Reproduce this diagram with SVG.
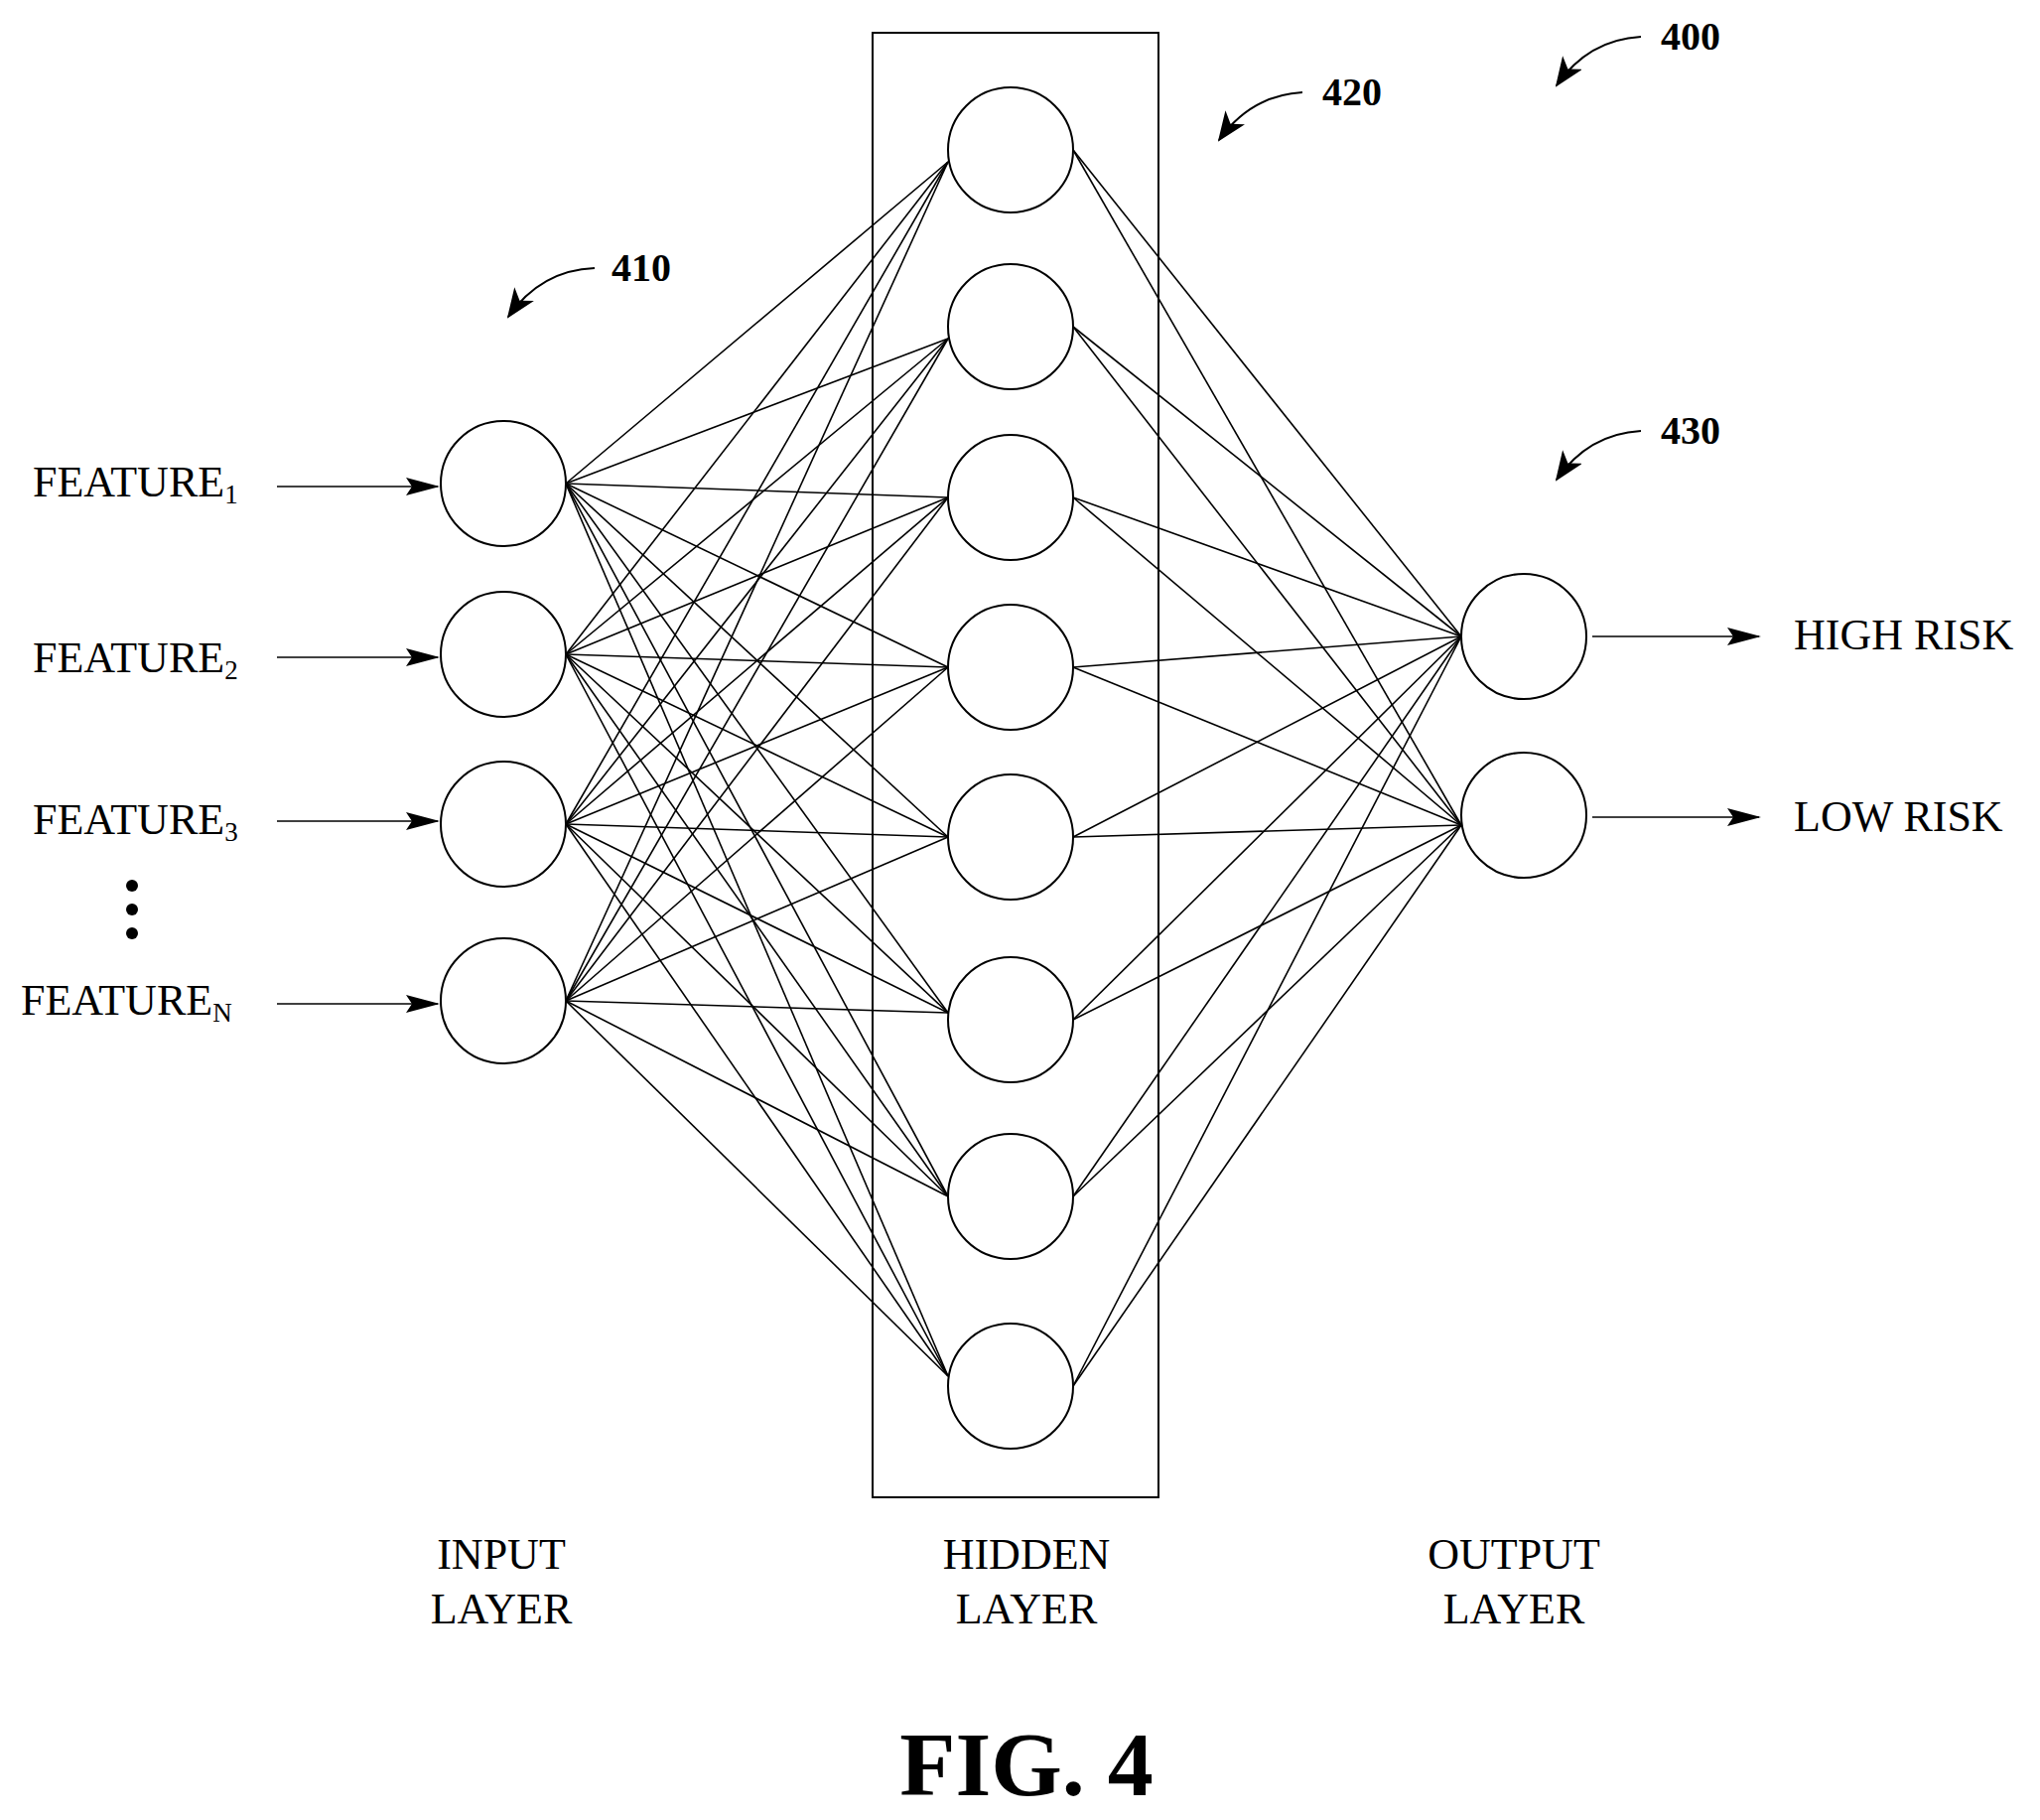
<svg xmlns="http://www.w3.org/2000/svg" width="2055" height="1833" viewBox="0 0 2055 1833">
<style>
.n{fill:#fff;stroke:#000;stroke-width:2}
.c line{stroke:#000;stroke-width:1.6}
.t{font-family:"Liberation Serif",serif;font-size:44px;fill:#000}
.r{font-family:"Liberation Serif",serif;font-size:40px;font-weight:bold;fill:#000}
.a{stroke:#000;stroke-width:2;fill:none}
</style>
<defs>
<marker id="ah2" markerWidth="34" markerHeight="18" refX="32" refY="9" orient="auto" markerUnits="userSpaceOnUse" viewBox="0 0 34 18"><path d="M0,0 L34,9 L0,18 L6,9 z" fill="#000"/></marker>
<marker id="ah3" markerWidth="30" markerHeight="24" refX="28" refY="12" orient="auto" markerUnits="userSpaceOnUse" viewBox="0 0 30 24"><path d="M0,0 L30,12 L0,24 L8,12 z" fill="#000"/></marker>
</defs>
<rect width="2055" height="1833" fill="#fff"/>
<rect x="879" y="33" width="288" height="1475" fill="none" stroke="#000" stroke-width="2"/>
<g class="c" id="connectors">
<g id="ih">
<line x1="570" y1="487" x2="955" y2="163"/><line x1="570" y1="487" x2="955" y2="341"/><line x1="570" y1="487" x2="955" y2="501"/><line x1="570" y1="487" x2="955" y2="672"/><line x1="570" y1="487" x2="955" y2="843"/><line x1="570" y1="487" x2="955" y2="1020"/><line x1="570" y1="487" x2="955" y2="1205"/><line x1="570" y1="487" x2="955" y2="1386"/>
<line x1="570" y1="659" x2="955" y2="163"/><line x1="570" y1="659" x2="955" y2="341"/><line x1="570" y1="659" x2="955" y2="501"/><line x1="570" y1="659" x2="955" y2="672"/><line x1="570" y1="659" x2="955" y2="843"/><line x1="570" y1="659" x2="955" y2="1020"/><line x1="570" y1="659" x2="955" y2="1205"/><line x1="570" y1="659" x2="955" y2="1386"/>
<line x1="570" y1="830" x2="955" y2="163"/><line x1="570" y1="830" x2="955" y2="341"/><line x1="570" y1="830" x2="955" y2="501"/><line x1="570" y1="830" x2="955" y2="672"/><line x1="570" y1="830" x2="955" y2="843"/><line x1="570" y1="830" x2="955" y2="1020"/><line x1="570" y1="830" x2="955" y2="1205"/><line x1="570" y1="830" x2="955" y2="1386"/>
<line x1="570" y1="1008" x2="955" y2="163"/><line x1="570" y1="1008" x2="955" y2="341"/><line x1="570" y1="1008" x2="955" y2="501"/><line x1="570" y1="1008" x2="955" y2="672"/><line x1="570" y1="1008" x2="955" y2="843"/><line x1="570" y1="1008" x2="955" y2="1020"/><line x1="570" y1="1008" x2="955" y2="1205"/><line x1="570" y1="1008" x2="955" y2="1386"/>
</g>
<g id="ho">
<line x1="1081" y1="151" x2="1472" y2="641"/><line x1="1081" y1="329" x2="1472" y2="641"/><line x1="1081" y1="501" x2="1472" y2="641"/><line x1="1081" y1="672" x2="1472" y2="641"/><line x1="1081" y1="843" x2="1472" y2="641"/><line x1="1081" y1="1027" x2="1472" y2="641"/><line x1="1081" y1="1205" x2="1472" y2="641"/><line x1="1081" y1="1396" x2="1472" y2="641"/>
<line x1="1081" y1="151" x2="1472" y2="831"/><line x1="1081" y1="329" x2="1472" y2="831"/><line x1="1081" y1="501" x2="1472" y2="831"/><line x1="1081" y1="672" x2="1472" y2="831"/><line x1="1081" y1="843" x2="1472" y2="831"/><line x1="1081" y1="1027" x2="1472" y2="831"/><line x1="1081" y1="1205" x2="1472" y2="831"/><line x1="1081" y1="1396" x2="1472" y2="831"/>
</g>
<g id="io">
<line x1="279" y1="490" x2="441" y2="490" marker-end="url(#ah2)"/>
<line x1="279" y1="662" x2="441" y2="662" marker-end="url(#ah2)"/>
<line x1="279" y1="827" x2="441" y2="827" marker-end="url(#ah2)"/>
<line x1="279" y1="1011" x2="441" y2="1011" marker-end="url(#ah2)"/>
<line x1="1604" y1="641" x2="1772" y2="641" marker-end="url(#ah2)"/>
<line x1="1604" y1="823" x2="1772" y2="823" marker-end="url(#ah2)"/>
</g>
</g>
<g id="input">
<circle id="in1" class="n" cx="507" cy="487" r="63"/>
<circle id="in2" class="n" cx="507" cy="659" r="63"/>
<circle id="in3" class="n" cx="507" cy="830" r="63"/>
<circle id="in4" class="n" cx="507" cy="1008" r="63"/>
</g>
<g id="hidden">
<circle id="h1" class="n" cx="1018" cy="151" r="63"/>
<circle id="h2" class="n" cx="1018" cy="329" r="63"/>
<circle id="h3" class="n" cx="1018" cy="501" r="63"/>
<circle id="h4" class="n" cx="1018" cy="672" r="63"/>
<circle id="h5" class="n" cx="1018" cy="843" r="63"/>
<circle id="h6" class="n" cx="1018" cy="1027" r="63"/>
<circle id="h7" class="n" cx="1018" cy="1205" r="63"/>
<circle id="h8" class="n" cx="1018" cy="1396" r="63"/>
</g>
<g id="output">
<circle id="o1" class="n" cx="1535" cy="641" r="63"/>
<circle id="o2" class="n" cx="1535" cy="821" r="63"/>
</g>
<g id="labels">
<text class="t" x="33" y="500">FEATURE<tspan font-size="27" dy="7">1</tspan></text>
<text class="t" x="33" y="677">FEATURE<tspan font-size="27" dy="7">2</tspan></text>
<text class="t" x="33" y="840">FEATURE<tspan font-size="27" dy="7">3</tspan></text>
<text class="t" x="21" y="1022">FEATURE<tspan font-size="27" dy="7">N</tspan></text>
<circle cx="133" cy="892" r="6"/><circle cx="133" cy="916" r="6"/><circle cx="133" cy="940" r="6"/>
<text class="t" x="1807" y="654">HIGH RISK</text>
<text class="t" x="1807" y="837">LOW RISK</text>
<g text-anchor="middle">
<text class="t" x="505" y="1580">INPUT</text><text class="t" x="505" y="1635">LAYER</text>
<text class="t" x="1034" y="1580">HIDDEN</text><text class="t" x="1034" y="1635">LAYER</text>
<text class="t" x="1525" y="1580">OUTPUT</text><text class="t" x="1525" y="1635">LAYER</text>
<text x="1034" y="1808" font-family="Liberation Serif,serif" font-weight="bold" font-size="92">FIG. 4</text>
</g>
<text class="r" x="1673" y="50">400</text>
<text class="r" x="1332" y="106">420</text>
<text class="r" x="616" y="283">410</text>
<text class="r" x="1673" y="447">430</text>
<path class="a" d="M1653,37 Q1600,40 1568,86" marker-end="url(#ah3)"/>
<path class="a" d="M1312,93 Q1260,96 1228,141" marker-end="url(#ah3)"/>
<path class="a" d="M599,270 Q545,272 512,319" marker-end="url(#ah3)"/>
<path class="a" d="M1653,434 Q1600,437 1568,483" marker-end="url(#ah3)"/>
</g>
</svg>
